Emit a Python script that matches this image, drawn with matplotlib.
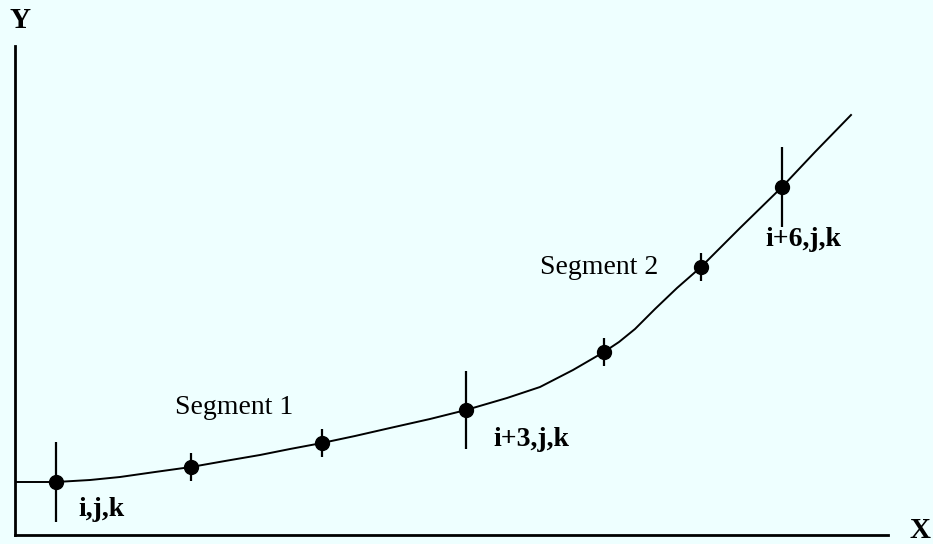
import matplotlib.pyplot as plt
import numpy as np

# node positions (arbitrary units)
node_x = [41, 176, 307, 451, 589, 686, 767]
node_y = [53, 68, 92, 125, 183, 268, 348]
node_err = [40, 14, 14, 39, 14, 14, 40]

# fitted curve through the nodes
curve_x = [0, 41, 75, 105, 140, 176, 210, 245, 275, 307, 340, 375, 415, 451,
           492, 525, 558, 589, 604, 620, 640, 662, 686, 725, 767, 800, 836]
curve_y = [53, 53, 55, 58, 63, 68, 74, 80, 86, 92, 99, 107, 116, 125,
           137, 148, 165, 183, 193, 206, 226, 247, 268, 307, 348, 383, 420]

labels = [
    ("i,j,k", 63, 25, "bold"),
    ("i+3,j,k", 478, 95, "bold"),
    ("i+6,j,k", 750, 295, "bold"),
    ("Segment 1", 160, 127, "normal"),
    ("Segment 2", 525, 267, "normal"),
]

bg = "#eeffff"
plt.rcParams['font.family'] = ['Liberation Serif', 'DejaVu Serif']

fig = plt.figure(figsize=(9.33, 5.44), dpi=100, facecolor=bg)
ax = fig.add_axes([15 / 933, 9 / 544, 873 / 933, 489 / 544])
ax.set_facecolor(bg)

ax.plot(curve_x, curve_y, color='black', linewidth=1.4)
ax.errorbar(node_x, node_y, yerr=node_err, fmt='o', color='black',
            markersize=10, elinewidth=1.6, capsize=0)

for text, x, y, weight in labels:
    ax.text(x, y, text, fontsize=20, fontweight=weight, va='center', ha='left')

ax.set_xlim(0, 873)
ax.set_ylim(0, 489)
ax.set_xticks([])
ax.set_yticks([])
for side in ['top', 'right']:
    ax.spines[side].set_visible(False)
for side in ['left', 'bottom']:
    ax.spines[side].set_linewidth(2)

fig.text(20 / 933, 1 - 20 / 544, "Y", fontsize=21, fontweight='bold', ha='center', va='center')
fig.text(920 / 933, 1 - 530 / 544, "X", fontsize=21, fontweight='bold', ha='center', va='center')

plt.savefig("out.png", dpi=100, facecolor=bg)
plt.close()
